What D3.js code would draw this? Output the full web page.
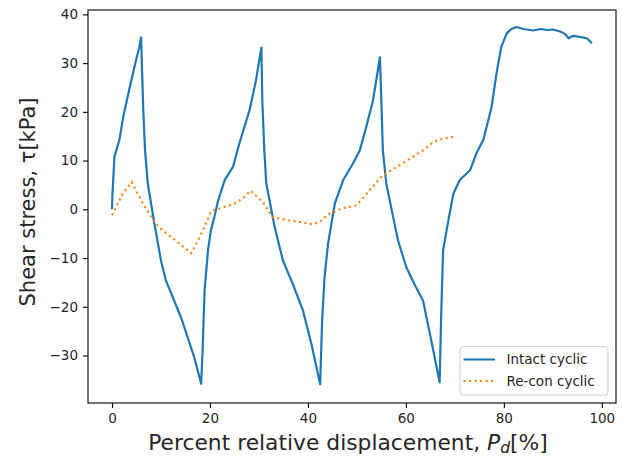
<!DOCTYPE html>
<html><head><meta charset="utf-8">
<script src="https://cdn.jsdelivr.net/npm/d3@7"></script>
<style>body{margin:0;background:#fff}svg{display:block}text{font-family:"DejaVu Sans",sans-serif;fill:#262626}</style>
</head><body><svg id="c" width="622" height="457"></svg>
<script>
const intactX=[0,0.1,0.5,1.5,2.3,3.5,4.6,5.6,5.95,6.15,6.4,6.75,7.3,8.65,10.0,11.0,14.1,16.8,18.2,18.5,18.9,19.6,20.2,20.9,21.6,23.0,24.7,26.0,28.1,29.4,30.5,30.7,31.1,31.5,33.2,34.9,36.9,39.0,40.7,42.5,42.9,43.4,44.1,45.5,47.2,49.2,50.6,51.9,53.3,54.7,55.0,55.3,56.0,57.4,58.4,60.1,61.8,63.5,65.2,66.9,67.2,67.6,68.8,69.7,71.0,73.1,74.4,75.8,77.5,78.5,79.5,80.6,81.5,82.6,84,86.0,87.5,88.8,90,91.5,92.5,93.2,94.2,95.5,96.9,98.0];
const intactY=[0,3.2,10.8,14.2,19,24.5,29.3,33.4,35.3,28,20,12.1,5.3,-2.9,-10.5,-14.6,-22.2,-30.4,-35.8,-29,-16.7,-8.4,-4.3,-1.6,1.5,6.0,8.7,13.5,20.4,26.5,33.2,22,12,5.3,-3.6,-10.5,-15.3,-20.8,-27.6,-35.9,-22.8,-13.9,-7.1,1.2,6.0,9.4,12.1,16.9,22.4,31.2,22,12.1,5.3,-1.6,-6.4,-11.9,-15.5,-18.7,-27,-35.5,-22,-8.4,-1.6,3.2,6.0,8.0,11.5,14.2,21.0,27.9,33.4,36.1,37,37.4,37,36.7,37,36.8,36.9,36.5,36,35.1,35.6,35.4,35.1,34.1];
const reconX=[0,0.5,2.2,4.0,6.3,8.65,10.3,12.1,14.3,16.2,17.9,18.9,20.2,22.3,24.7,26.7,28.3,30.8,32.8,36.3,39,41.0,42.4,44.4,47,49.9,52.6,55.3,58.8,63.5,65.6,67.6,70.0];
const reconY=[-1.2,-0.2,3.2,5.6,1.2,-2.6,-4.3,-5.7,-7.5,-9.0,-5.7,-3.6,-0.5,0.3,1.0,2.2,3.8,1.5,-1.6,-2.3,-2.7,-3.1,-2.6,-0.9,0.2,0.8,3.9,7.0,9.1,12.1,13.8,14.5,14.9];
const xTicks=[0,20,40,60,80,100];
const yTicks=[-30,-20,-10,0,10,20,30,40];
const seriesNames=["Intact cyclic","Re-con cyclic"];
const colors=["#1f77b4","#ff7f0e"];

const L=88,T=10,R=616,B=403;
const svg=d3.select("#c");
const x=d3.scaleLinear().domain([-4.9,102.9]).range([L,R]);
const y=d3.scaleLinear().domain([-39.75,40.9]).range([B,T]);
const line=d3.line().x(d=>x(d[0])).y(d=>y(d[1]));
svg.append("clipPath").attr("id","cp").append("rect").attr("x",L).attr("y",T).attr("width",R-L).attr("height",B-T);
const g=svg.append("g").attr("clip-path","url(#cp)");
g.append("path").datum(intactX.map((v,i)=>[v,intactY[i]])).attr("d",line)
 .attr("fill","none").attr("stroke",colors[0]).attr("stroke-width",2.2).attr("stroke-linejoin","round");
g.append("path").datum(reconX.map((v,i)=>[v,reconY[i]])).attr("d",line)
 .attr("fill","none").attr("stroke",colors[1]).attr("stroke-width",2.1).attr("stroke-dasharray","2.1,3.4");

const xa=svg.append("g").attr("transform",`translate(0,${B})`).call(d3.axisBottom(x).tickValues(xTicks).tickSize(5).tickPadding(5).tickFormat(d3.format("d")));
const ya=svg.append("g").attr("transform",`translate(${L},0)`).call(d3.axisLeft(y).tickValues(yTicks).tickSize(5).tickPadding(5).tickFormat(d=>d<0?"\u2212"+Math.abs(d):d));
[xa,ya].forEach(a=>{a.select(".domain").remove();a.selectAll("line").attr("stroke","#000").attr("stroke-width",1.1);a.selectAll("text").style("font-size","13.5px").attr("font-family","DejaVu Sans").attr("fill","#262626");});
svg.append("rect").attr("x",L).attr("y",T).attr("width",R-L).attr("height",B-T).attr("fill","none").attr("stroke","#000").attr("stroke-width",1.1);

// axis labels
const xl=svg.append("text").attr("x",348).attr("y",450).attr("text-anchor","middle").style("font-size","21.8px");
xl.append("tspan").text("Percent relative displacement, ");
xl.append("tspan").attr("font-style","italic").text("P");
xl.append("tspan").attr("font-style","italic").attr("dy",3).style("font-size","15.5px").text("d");
xl.append("tspan").attr("dy",-3).text("[%]");
svg.append("text").attr("transform",`translate(35,202) rotate(-90)`).attr("text-anchor","middle").style("font-size","21px").text("Shear stress, \u03c4[kPa]");

// legend
const lg=svg.append("g");
lg.append("rect").attr("x",460).attr("y",346.5).attr("width",148).attr("height",48.5).attr("rx",3).attr("fill","#fff").attr("fill-opacity",0.8).attr("stroke","#ccc").attr("stroke-width",1);
seriesNames.forEach((n,i)=>{
  const yy=359.5+i*21.5;
  lg.append("line").attr("x1",463.5).attr("x2",495).attr("y1",yy).attr("y2",yy).attr("stroke",colors[i]).attr("stroke-width",2.1).attr("stroke-dasharray",i?"2.1,3.4":null);
  lg.append("text").attr("x",506.5).attr("y",yy+4.7).style("font-size","13.5px").text(n);
});
</script></body></html>
